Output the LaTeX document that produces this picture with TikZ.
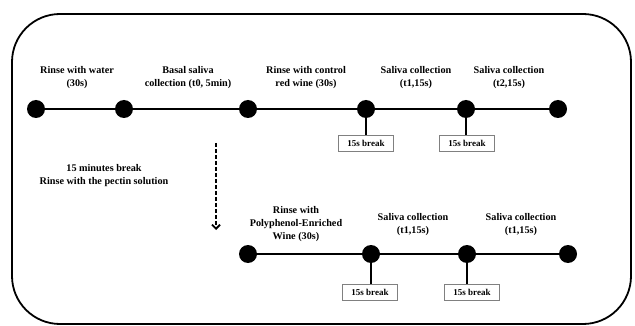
\documentclass[tikz,border=0pt]{standalone}
\usepackage{fontspec}
\setmainfont{Liberation Serif}
\usetikzlibrary{arrows.meta}
\begin{document}
\begin{tikzpicture}[x=1pt,y=-1pt,
 dot/.style={circle,fill=black,minimum size=18pt,inner sep=0pt},
 lbl/.style={font=\bfseries\fontsize{10.2}{13}\selectfont,align=center},
 brk/.style={draw=gray,line width=0.6pt,font=\bfseries\fontsize{9}{10}\selectfont,minimum width=55pt,minimum height=16pt,inner sep=0pt},
 tl/.style={line width=1.8pt}]
\useasboundingbox (0,0) rectangle (635,326);
\draw[line width=1.8pt,rounded corners=48pt] (12,14) rectangle (631,324);
% top row
\node[dot] (a1) at (36,109) {};
\node[dot] (a2) at (124,109) {};
\node[dot] (a3) at (248,109) {};
\node[dot] (a4) at (366,109) {};
\node[dot] (a5) at (466,109) {};
\node[dot] (a6) at (558,109) {};
\draw[tl] (a1) -- (a2) -- (a3) -- (a4) -- (a5) -- (a6);
\node[lbl] (l1) at (77,78) {Rinse with water\\(30s)};
\node[lbl] (l2) at (188,78) {Basal saliva\\collection (t0, 5min)};
\node[lbl] (l3) at (306,78) {Rinse with control\\red wine (30s)};
\node[lbl] (l4) at (416,78) {Saliva collection\\(t1,15s)};
\node[lbl] (l5) at (509,78) {Saliva collection\\(t2,15s)};
\node[brk] (b1) at (366,143) {15s break};
\node[brk] (b2) at (467,143) {15s break};
\draw[tl] (a4) -- (a4 |- b1.north);
\draw[tl] (a5) -- (a5 |- b2.north);
% middle
\node[lbl] (mid) at (104,176) {15 minutes break\\Rinse with the pectin solution};
\coordinate (s) at (216,143);
\coordinate (e) at (216,230);
\draw[line width=1.8pt,dash pattern=on 4pt off 2pt,-{Straight Barb[length=4pt,width=8pt]}] (s) -- (e);
% bottom row
\node[dot] (c1) at (248,254) {};
\node[dot] (c2) at (371,254) {};
\node[dot] (c3) at (467,254) {};
\node[dot] (c4) at (568,254) {};
\draw[tl] (c1) -- (c2) -- (c3) -- (c4);
\node[lbl] (m1) at (296,224) {Rinse with\\Polyphenol-Enriched\\Wine (30s)};
\node[lbl] (m2) at (413,225) {Saliva collection\\(t1,15s)};
\node[lbl] (m3) at (521,225) {Saliva collection\\(t1,15s)};
\node[brk] (d1) at (370,292) {15s break};
\node[brk] (d2) at (472,292) {15s break};
\draw[tl] (c2) -- (c2 |- d1.north);
\draw[tl] (c3) -- (c3 |- d2.north);
\end{tikzpicture}
\end{document}
